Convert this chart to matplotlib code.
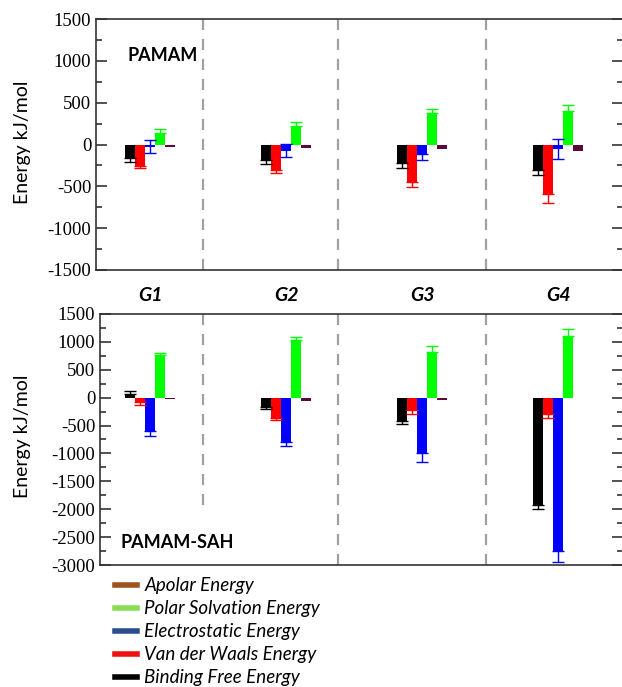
import numpy as np
import matplotlib
matplotlib.use("Agg")
import matplotlib.pyplot as plt
from matplotlib.lines import Line2D
from matplotlib.ticker import MultipleLocator

plt.rcParams['axes.unicode_minus'] = False

# generations on the x axis
groups = ["G1", "G2", "G3", "G4"]
series = ["Binding Free Energy", "Van der Waals Energy", "Electrostatic Energy",
          "Polar Solvation Energy", "Apolar Energy"]

# PAMAM (top panel), kJ/mol
pamam_binding = [-160, -180, -225, -305]
pamam_vdw = [-260, -305, -450, -595]
pamam_elec = [-25, -75, -115, -55]
pamam_polar = [140, 220, 375, 395]
pamam_apolar = [-25, -40, -55, -75]
pamam_binding_err = [50, 50, 60, 60]
pamam_vdw_err = [25, 40, 55, 100]
pamam_elec_err = [75, 80, 75, 115]
pamam_polar_err = [40, 48, 50, 80]
pamam_apolar_err = [0, 0, 0, 0]

# PAMAM-SAH (bottom panel), kJ/mol
sah_binding = [60, -160, -420, -1920]
sah_vdw = [-85, -360, -220, -300]
sah_elec = [-600, -795, -985, -2750]
sah_polar = [765, 1035, 825, 1105]
sah_apolar = [-30, -60, -42, -10]
sah_binding_err = [55, 40, 60, 75]
sah_vdw_err = [50, 45, 75, 70]
sah_elec_err = [90, 80, 160, 190]
sah_polar_err = [40, 55, 100, 135]
sah_apolar_err = [0, 0, 0, 0]

top_ticks = [-1500, -1000, -500, 0, 500, 1000, 1500]
bottom_ticks = [-3000, -2500, -2000, -1500, -1000, -500, 0, 500, 1000, 1500]

bar_colors = ["#000000", "#ff0000", "#0000ff", "#00ff00", "#5a0a3a"]
legend_colors = ["#000000", "#ee1111", "#2b4f8c", "#88dd55", "#a0521e"]

W, H = 622, 687
fig = plt.figure(figsize=(W / 100, H / 100), dpi=100)

px_center0 = 150.0   # pixel x of G1 centre
px_step = 136.0      # pixel spacing between groups
bw = 10.0 / px_step  # bar width in data units
sans = "Lato"
serif = ["Liberation Serif", "DejaVu Serif"]


def make_axes(left_px, top_px, bottom_px, ticks, right_px=623):
    ax = fig.add_axes([left_px / W, 1 - bottom_px / H,
                       (right_px - left_px) / W, (bottom_px - top_px) / H])
    ax.set_xlim((left_px - px_center0) / px_step, (right_px - px_center0) / px_step)
    ax.set_ylim(min(ticks), max(ticks))
    for s in ax.spines.values():
        s.set_color("#333333")
        s.set_linewidth(1.2)
    ax.set_yticks(ticks, [str(t) for t in ticks], fontfamily=serif, fontsize=13.5)
    ax.yaxis.set_minor_locator(MultipleLocator(250))
    ax.tick_params(axis="y", which="both", direction="in", left=True, right=True,
                   width=1.2, color="#333333")
    ax.tick_params(axis="y", which="major", length=8)
    ax.tick_params(axis="y", which="minor", length=4)
    return ax


def draw_bars(ax, vals, errs):
    x = np.arange(len(groups))
    for i, (v, e) in enumerate(zip(vals, errs)):
        xs = x + (i - 2) * bw
        ax.bar(xs, v, width=bw, color=bar_colors[i], zorder=2)
        if not any(e):
            continue
        # outward half always; inner half only if it pokes out past zero
        v = np.array(v, float)
        e = np.array(e, float)
        inner = np.where(e > np.abs(v), e, 0)
        lower = np.where(v < 0, e, inner)
        upper = np.where(v < 0, inner, e)
        ax.errorbar(xs, v, yerr=[lower, upper], fmt="none", ecolor=bar_colors[i],
                    elinewidth=1.0, capsize=4, capthick=1.0, zorder=3)


# top panel
ax1 = make_axes(96, 19, 270, top_ticks)
draw_bars(ax1, [pamam_binding, pamam_vdw, pamam_elec, pamam_polar, pamam_apolar],
          [pamam_binding_err, pamam_vdw_err, pamam_elec_err, pamam_polar_err, pamam_apolar_err])
ax1.set_xticks(np.arange(len(groups)))
ax1.set_xticklabels(groups, fontfamily=sans, fontweight="bold", fontstyle="italic",
                    fontsize=14)
ax1.tick_params(axis="x", length=0, pad=12)
sep_x = [(203 - px_center0) / px_step, (338 - px_center0) / px_step,
         (486 - px_center0) / px_step]
for sx in sep_x:
    ax1.axvline(sx, color="#a0a0a0", lw=1.6, ls=(0, (5, 4)), zorder=1)
ax1.text(0.06, 0.855, "PAMAM", transform=ax1.transAxes, fontfamily=sans,
         fontweight="bold", fontsize=13, va="center", ha="left")

# bottom panel
ax2 = make_axes(100, 314, 565, bottom_ticks)
draw_bars(ax2, [sah_binding, sah_vdw, sah_elec, sah_polar, sah_apolar],
          [sah_binding_err, sah_vdw_err, sah_elec_err, sah_polar_err, sah_apolar_err])
ax2.set_xticks([])
ax2.plot([sep_x[0], sep_x[0]], [1500, -2050], color="#a0a0a0", lw=1.6,
         ls=(0, (5, 4)), zorder=1)
for sx in sep_x[1:]:
    ax2.axvline(sx, color="#a0a0a0", lw=1.6, ls=(0, (5, 4)), zorder=1)
ax2.text(0.04, 0.09, "PAMAM-SAH", transform=ax2.transAxes, fontfamily=sans,
         fontweight="bold", fontsize=13, va="center", ha="left")

for yc in (142, 436):
    fig.text(23 / W, 1 - yc / H, "Energy kJ/mol", rotation=90, ha="center",
             va="center", fontfamily=sans, fontsize=14)

# legend, top entry first
order = [4, 3, 2, 1, 0]
handles = [Line2D([0], [0], color=legend_colors[i], lw=4) for i in order]
labels = [series[i] for i in order]
fig.legend(handles, labels, loc="upper left", bbox_to_anchor=(106 / W, 1 - 568 / H),
           frameon=False, prop={"family": sans, "style": "italic", "size": 13.5},
           handlelength=1.15, handletextpad=0.4, labelspacing=0.32, borderpad=0)

fig.savefig("out.png", dpi=100)
